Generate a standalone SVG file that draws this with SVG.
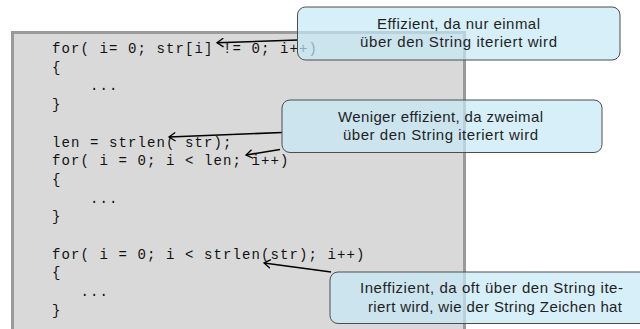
<svg xmlns="http://www.w3.org/2000/svg" width="640" height="329" viewBox="0 0 640 329">
  <defs>
    <style>
      .code { font-family: "Liberation Mono", "Courier New", monospace; font-size: 14px; letter-spacing: 1.1px; fill: #111; white-space: pre; }
      .note { font-family: "Liberation Sans", Arial, sans-serif; font-size: 15px; fill: #1f1f1f; }
      .box { fill: #c4e8f6; fill-opacity: 0.7; stroke: #4d4d4d; stroke-width: 1; }
      .arrow { fill: none; stroke: #000; stroke-width: 1.6; marker-end: url(#to); }
    </style>
    <marker id="to" viewBox="-8 -5 10 10" refX="0" refY="0" markerWidth="10" markerHeight="10" orient="auto" markerUnits="userSpaceOnUse">
      <path d="M-6,-4 Q-1.5,-1 0,0 Q-1.5,1 -6,4" fill="none" stroke="#000" stroke-width="1.3" stroke-linecap="round"/>
    </marker>
  </defs>

  <g id="code-panel">
    <rect x="12.5" y="32.5" width="452" height="310" fill="#d9d9d9" stroke="#9a9a9a" stroke-width="3"/>
    <g class="code">
      <text x="52" y="53">for( i= 0; str[i] != 0; i++)</text>
      <text x="52" y="71.7">{</text>
      <text x="90" y="90.4">...</text>
      <text x="52" y="109.1">}</text>
      <text x="52" y="146.5">len = strlen( str);</text>
      <text x="52" y="165.2">for( i = 0; i &lt; len; i++)</text>
      <text x="52" y="183.9">{</text>
      <text x="90" y="202.6">...</text>
      <text x="52" y="221.3">}</text>
      <text x="52" y="258.7">for( i = 0; i &lt; strlen(str); i++)</text>
      <text x="52" y="277.4">{</text>
      <text x="80.5" y="296.1">...</text>
      <text x="52" y="314.8">}</text>
    </g>
  </g>

  <g id="connectors">
    <path class="arrow" d="M298,40 L217,42.8"/>
    <path class="arrow" d="M282,132.5 L169,137"/>
    <path class="arrow" d="M280,149.5 L246,155"/>
    <path class="arrow" d="M331,272 L264,263"/>
  </g>

  <g id="note-effizient">
    <rect class="box" x="297.5" y="7" width="322.5" height="53" rx="8"/>
    <text class="note" x="377" y="29" textLength="163" lengthAdjust="spacing">Effizient, da nur einmal</text>
    <text class="note" x="360" y="47" textLength="197" lengthAdjust="spacing">über den String iteriert wird</text>
  </g>

  <g id="note-weniger">
    <rect class="box" x="282" y="100" width="320" height="52.5" rx="8"/>
    <text class="note" x="338" y="121.5" textLength="205" lengthAdjust="spacing">Weniger effizient, da zweimal</text>
    <text class="note" x="343" y="140" textLength="195" lengthAdjust="spacing">über den String iteriert wird</text>
  </g>

  <g id="note-ineffizient">
    <rect class="box" x="330" y="272" width="322" height="51.5" rx="8"/>
    <text class="note" x="360" y="293" textLength="263" lengthAdjust="spacing">Ineffizient, da oft über den String ite-</text>
    <text class="note" x="368" y="311.5" textLength="254" lengthAdjust="spacing">riert wird, wie der String Zeichen hat</text>
  </g>
</svg>
